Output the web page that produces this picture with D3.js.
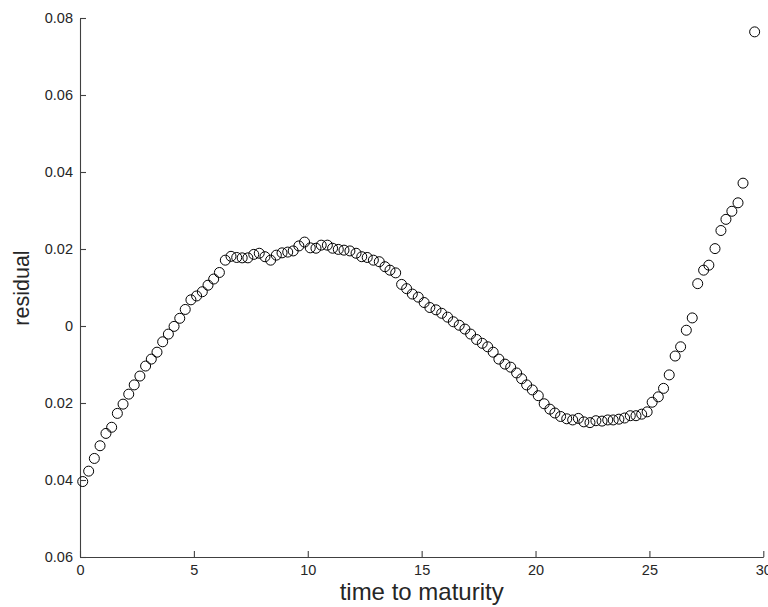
<!DOCTYPE html>
<html>
<head>
<meta charset="utf-8">
<script src="https://cdn.jsdelivr.net/npm/d3@7"></script>
<style>
  body { margin: 0; background: #fff; }
  svg { display: block; font-family: "Liberation Sans", Arial, sans-serif; }
</style>
</head>
<body>
<div id="chart"></div>
<script>
// Time to maturity (x) and residual (y)
var maturity = [
  0.12, 0.38, 0.63, 0.88, 1.14, 1.39, 1.64, 1.89, 2.14, 2.38,
  2.63, 2.88, 3.13, 3.38, 3.63, 3.88, 4.13, 4.38, 4.62, 4.87,
  5.12, 5.37, 5.62, 5.87, 6.12, 6.38, 6.63, 6.88, 7.12, 7.37,
  7.63, 7.87, 8.12, 8.37, 8.62, 8.87, 9.12, 9.36, 9.61, 9.86,
  10.11, 10.36, 10.59, 10.86, 11.09, 11.34, 11.59, 11.85, 12.12, 12.37,
  12.61, 12.88, 13.14, 13.39, 13.61, 13.86, 14.12, 14.34, 14.59, 14.85,
  15.11, 15.36, 15.63, 15.88, 16.14, 16.39, 16.65, 16.90, 17.15, 17.41,
  17.66, 17.90, 18.14, 18.39, 18.66, 18.91, 19.17, 19.39, 19.61, 19.86,
  20.12, 20.38, 20.63, 20.85, 21.10, 21.37, 21.63, 21.88, 22.12, 22.39,
  22.65, 22.92, 23.17, 23.41, 23.66, 23.91, 24.16, 24.41, 24.66, 24.90,
  25.12, 25.39, 25.62, 25.87, 26.13, 26.37, 26.62, 26.88, 27.12, 27.38,
  27.61, 27.88, 28.14, 28.36, 28.62, 28.89, 29.11, 29.62
];
var residual = [
  -0.0404, -0.0377, -0.0344, -0.0311, -0.0279, -0.0263, -0.0227, -0.0203, -0.0177, -0.0153,
  -0.0130, -0.0104, -0.0086, -0.0068, -0.0041, -0.0021, -0.0001, 0.0020, 0.0043, 0.0068,
  0.0078, 0.0089, 0.0106, 0.0122, 0.0139, 0.0171, 0.0181, 0.0178, 0.0177, 0.0177,
  0.0186, 0.0189, 0.0180, 0.0171, 0.0184, 0.0190, 0.0192, 0.0195, 0.0208, 0.0218,
  0.0203, 0.0202, 0.0210, 0.0210, 0.0202, 0.0199, 0.0197, 0.0195, 0.0189, 0.0180,
  0.0178, 0.0171, 0.0167, 0.0154, 0.0145, 0.0138, 0.0108, 0.0097, 0.0083, 0.0075,
  0.0061, 0.0048, 0.0042, 0.0033, 0.0023, 0.0011, 0.0002, -0.0008, -0.0021, -0.0035,
  -0.0045, -0.0054, -0.0068, -0.0086, -0.0099, -0.0107, -0.0122, -0.0137, -0.0153, -0.0166,
  -0.0181, -0.0202, -0.0216, -0.0226, -0.0235, -0.0241, -0.0244, -0.0240, -0.0249, -0.0251,
  -0.0246, -0.0247, -0.0244, -0.0244, -0.0242, -0.0239, -0.0233, -0.0233, -0.0229, -0.0223,
  -0.0198, -0.0184, -0.0162, -0.0127, -0.0078, -0.0054, -0.0011, 0.0021, 0.0110, 0.0145,
  0.0158, 0.0201, 0.0248, 0.0277, 0.0298, 0.0320, 0.0371, 0.0764
];

// Tick values and the labels as printed in the picture
var xTicks = [0, 5, 10, 15, 20, 25, 30];
var yTicks = [-0.06, -0.04, -0.02, 0, 0.02, 0.04, 0.06, 0.08];
var yTickLabels = ["0.06", "0.04", "0.02", "0", "0.02", "0.04", "0.06", "0.08"];

var w = 768;
var h = 607;
var padLeft = 80, padTop = 18, plotRight = 763.3, plotBottom = 557;

var svg = d3
  .select("#chart")
  .append("svg")
  .attr("width", w)
  .attr("height", h);

var xScale = d3.scaleLinear().domain([0, 30]).range([padLeft, plotRight]);
var yScale = d3.scaleLinear().domain([-0.06, 0.08]).range([plotBottom, padTop]);

// x axis, ticks pointing inward
var xAxisG = svg
  .append("g")
  .attr("transform", "translate(0," + plotBottom + ")")
  .call(
    d3.axisBottom(xScale)
      .tickValues(xTicks)
      .tickFormat(d3.format("d"))
      .tickSizeInner(-6)
      .tickSizeOuter(0)
      .tickPadding(8)
  );

// y axis
var yAxisG = svg
  .append("g")
  .attr("transform", "translate(" + padLeft + ",0)")
  .call(
    d3.axisLeft(yScale)
      .tickValues(yTicks)
      .tickFormat(function (d, i) {
        return yTickLabels[i];
      })
      .tickSizeInner(-6)
      .tickSizeOuter(0)
      .tickPadding(7)
  );

[xAxisG, yAxisG].forEach(function (g) {
  g.attr("font-family", null).attr("font-size", null);
  g.selectAll("path, line").attr("stroke", "#404040").attr("stroke-width", 1.1);
  g.selectAll("text")
    .attr("fill", "#262626")
    .style("font-size", "14.5px")
    .style("font-family", "'Liberation Sans', Arial, sans-serif");
});

// Axis titles
svg
  .append("text")
  .attr("x", (padLeft + plotRight) / 2)
  .attr("y", 600)
  .attr("text-anchor", "middle")
  .attr("font-size", 24)
  .attr("fill", "#262626")
  .text("time to maturity");

svg
  .append("text")
  .attr("transform", "translate(29,288) rotate(-90)")
  .attr("text-anchor", "middle")
  .attr("font-size", 21.5)
  .attr("fill", "#262626")
  .text("residual");

// Scatter points (open circles)
var points = maturity.map(function (d, i) {
  return [d, residual[i]];
});

svg
  .selectAll("circle")
  .data(points)
  .enter()
  .append("circle")
  .attr("cx", function (d) {
    return xScale(d[0]);
  })
  .attr("cy", function (d) {
    return yScale(d[1]);
  })
  .attr("r", 5)
  .attr("fill", "none")
  .attr("stroke", "#000")
  .attr("stroke-width", 1);
</script>
</body>
</html>
